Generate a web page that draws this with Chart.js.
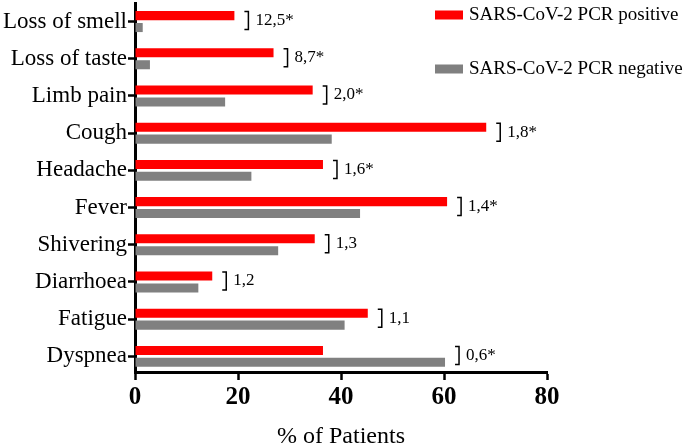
<!DOCTYPE html>
<html>
<head>
<meta charset="utf-8">
<script src="https://cdn.jsdelivr.net/npm/chart.js@4.4.0/dist/chart.umd.min.js"></script>
<style>
  html, body { margin: 0; padding: 0; background: #fff; }
  #wrap { width: 685px; height: 445px; }
</style>
</head>
<body>
<div id="wrap"><canvas id="chart"></canvas></div>
<script>
const symptoms = ['Loss of smell', 'Loss of taste', 'Limb pain', 'Cough', 'Headache',
                  'Fever', 'Shivering', 'Diarrhoea', 'Fatigue', 'Dyspnea'];
const pcrPositive = [19.3, 26.9, 34.5, 68.2, 36.5, 60.6, 34.9, 15.0, 45.2, 36.5];
const pcrNegative = [1.5, 2.9, 17.5, 38.2, 22.6, 43.7, 27.8, 12.3, 40.7, 60.2];
const oddsRatios = ['12,5*', '8,7*', '2,0*', '1,8*', '1,6*', '1,4*', '1,3', '1,2', '1,1', '0,6*'];
const xTicks = [0, 20, 40, 60, 80];

const SERIF = '"Liberation Serif", "Times New Roman", serif';

// index axis is numeric so the x axis can cut slightly into the last row, as in the original
const toPoints = (arr) => arr.map((v, i) => ({ x: v, y: i }));

// brackets + odds ratio text next to each pair of bars
const bracketPlugin = {
  id: 'brackets',
  afterDatasetsDraw(chart) {
    const ctx = chart.ctx;
    const xs = chart.scales.x, ys = chart.scales.y;
    ctx.save();
    ctx.strokeStyle = '#000';
    ctx.fillStyle = '#000';
    ctx.lineWidth = 1.5;
    ctx.font = '17px ' + SERIF;
    ctx.textBaseline = 'middle';
    symptoms.forEach((s, i) => {
      const v = Math.max(pcrPositive[i], pcrNegative[i]);
      const x = xs.getPixelForValue(v) + 14;
      const y = ys.getPixelForValue(i) - 1;
      ctx.beginPath();
      ctx.moveTo(x - 4, y - 9);
      ctx.lineTo(x, y - 9);
      ctx.lineTo(x, y + 9);
      ctx.lineTo(x - 4, y + 9);
      ctx.stroke();
      ctx.fillText(oddsRatios[i], x + 7, y);
    });
    ctx.restore();
  }
};

// legend drawn inside the top right corner
const legendPlugin = {
  id: 'cornerLegend',
  afterDraw(chart) {
    const ctx = chart.ctx;
    ctx.save();
    ctx.font = '19px ' + SERIF;
    ctx.textBaseline = 'middle';
    chart.data.datasets.forEach((ds, i) => {
      const y = 15 + i * 54;
      ctx.fillStyle = ds.backgroundColor;
      ctx.fillRect(435, y - 4.5, 28, 9);
      ctx.fillStyle = '#000';
      ctx.fillText(ds.label, 469, y);
    });
    ctx.restore();
  }
};

new Chart(document.getElementById('chart'), {
  type: 'bar',
  data: {
    datasets: [
      { label: 'SARS-CoV-2 PCR positive', data: toPoints(pcrPositive), backgroundColor: '#ff0000' },
      { label: 'SARS-CoV-2 PCR negative', data: toPoints(pcrNegative), backgroundColor: '#808080' }
    ]
  },
  options: {
    indexAxis: 'y',
    responsive: true,
    maintainAspectRatio: false,
    animation: false,
    layout: { padding: { top: 3, right: 138, left: 0, bottom: 0 } },
    datasets: { bar: { categoryPercentage: 0.64, barPercentage: 0.76 } },
    plugins: {
      legend: { display: false },
      tooltip: { enabled: false }
    },
    scales: {
      x: {
        type: 'linear',
        min: 0,
        max: 80,
        afterBuildTicks: (scale) => { scale.ticks = xTicks.map(v => ({ value: v })); },
        afterFit: (scale) => { scale.height = 73; },
        border: { color: '#000', width: 3 },
        grid: { drawOnChartArea: false, color: '#000', tickLength: 8, tickWidth: 2.5 },
        ticks: {
          color: '#000',
          padding: 3,
          font: { family: SERIF, size: 25, weight: 'bold' }
        },
        title: {
          display: true,
          text: '% of Patients',
          color: '#000',
          padding: 0,
          font: { family: SERIF, size: 24, lineHeight: 0.7 }
        }
      },
      y: {
        type: 'linear',
        reverse: true,
        offset: false,
        min: -0.5,
        max: 9.42,
        afterBuildTicks: (scale) => { scale.ticks = symptoms.map((s, i) => ({ value: i })); },
        afterFit: (scale) => {
          scale.width = 135;
          scale.paddingTop = 0;
          scale.paddingBottom = 0;
        },
        border: { color: '#000', width: 3 },
        grid: { offset: false, drawOnChartArea: false, color: '#000', tickLength: 7, tickWidth: 2.5 },
        ticks: {
          color: '#000',
          padding: 1,
          font: { family: SERIF, size: 23 },
          callback: (v) => symptoms[v]
        }
      }
    }
  },
  plugins: [bracketPlugin, legendPlugin]
});
</script>
</body>
</html>
